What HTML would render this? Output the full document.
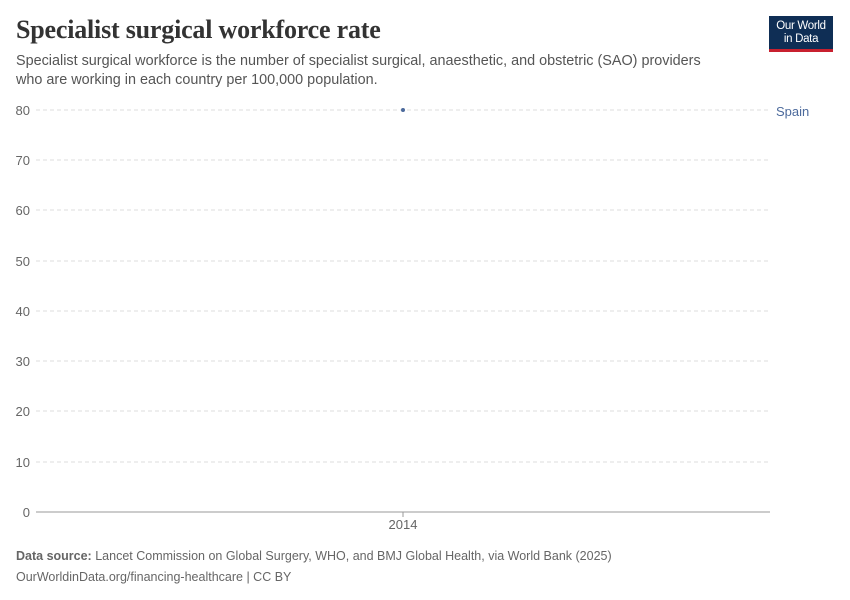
<!DOCTYPE html>
<html><head><style>
body{margin:0;background:#fff;width:850px;height:600px;position:relative;font-family:"Liberation Sans",sans-serif;overflow:hidden}
.t{position:absolute;white-space:nowrap}
</style></head><body>
<div class="t" style="left:16px;top:15px;font-family:'Liberation Serif',serif;font-weight:bold;font-size:26px;color:#333;letter-spacing:-0.2px">Specialist surgical workforce rate</div>
<div class="t" style="left:16px;top:52px;font-size:14.4px;color:#555;line-height:19px">Specialist surgical workforce is the number of specialist surgical, anaesthetic, and obstetric (SAO) providers<br>who are working in each country per 100,000 population.</div>
<div style="position:absolute;left:769px;top:16px;width:64px;height:36px;background:#0f2e55;border-bottom:3px solid #c8202f;color:#fff;font-size:11.5px;text-align:center;line-height:13px;padding-top:4px;box-sizing:border-box;letter-spacing:-0.3px">Our World<br>in Data</div>
<svg style="position:absolute;left:0;top:0" width="850" height="600">
<g stroke="#ddd" stroke-dasharray="4,3">
<line x1="36" x2="770" y1="110" y2="110"/><line x1="36" x2="770" y1="160" y2="160"/><line x1="36" x2="770" y1="210" y2="210"/><line x1="36" x2="770" y1="261" y2="261"/><line x1="36" x2="770" y1="311" y2="311"/><line x1="36" x2="770" y1="361" y2="361"/><line x1="36" x2="770" y1="411" y2="411"/><line x1="36" x2="770" y1="462" y2="462"/>
</g>
<line x1="36" x2="770" y1="512" y2="512" stroke="#999"/>
<line x1="403" x2="403" y1="512" y2="517" stroke="#999"/>
<g font-size="13" fill="#666" text-anchor="end">
<text x="30" y="115">80</text><text x="30" y="165">70</text><text x="30" y="215">60</text><text x="30" y="266">50</text><text x="30" y="316">40</text><text x="30" y="366">30</text><text x="30" y="416">20</text><text x="30" y="467">10</text><text x="30" y="517">0</text>
</g>
<text x="403" y="529" font-size="13" fill="#666" text-anchor="middle">2014</text>
<circle cx="403" cy="110" r="2" fill="#4c6a9c"/>
<text x="776" y="116" font-size="13" fill="#4c6a9c">Spain</text>
<text x="16" y="560" font-size="12.5" fill="#666"><tspan font-weight="bold">Data source:</tspan> Lancet Commission on Global Surgery, WHO, and BMJ Global Health, via World Bank (2025)</text>
<text x="16" y="581" font-size="12.5" fill="#666">OurWorldinData.org/financing-healthcare | CC BY</text>
</svg>
</body></html>
